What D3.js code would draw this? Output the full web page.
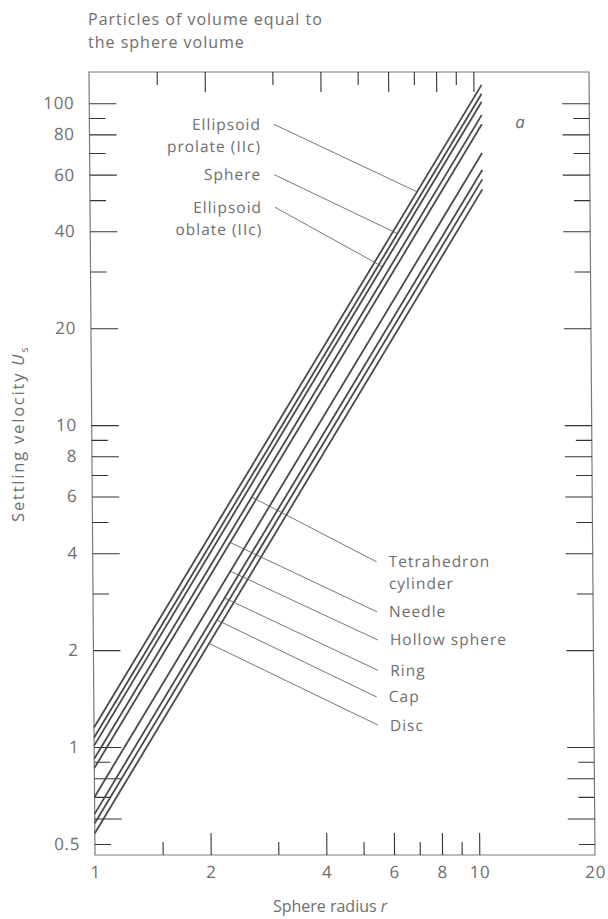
<!DOCTYPE html>
<html>
<head>
<meta charset="utf-8">
<script src="https://cdn.jsdelivr.net/npm/d3@7"></script>
<style>
  body { margin: 0; background: #fff; }
  text { font-family: "Open Sans", sans-serif; fill: #6e6e6e; }
</style>
</head>
<body>
<div class="settling"></div>
<script>
// data (log-log, straight lines)
const shapes = ["Ellipsoid prolate (IIc)", "Sphere", "Ellipsoid oblate (IIc)", "Tetrahedron cylinder",
                "Needle", "Hollow sphere", "Ring", "Cap", "Disc"];
const rFrom = 1, rTo = 10.5;
const uAtFrom = [1.15, 1.07, 1.01, 0.92, 0.86, 0.70, 0.62, 0.58, 0.54];
const uAtTo   = [114, 107, 101, 92, 86, 70, 62, 58, 54];

// labels: which line, where the leader touches it (r), where the leader ends (r, u)
const labelLines = [["Ellipsoid", "prolate (IIc)"], ["Sphere"], ["Ellipsoid", "oblate (IIc)"],
                    ["Tetrahedron", "cylinder"], ["Needle"], ["Hollow sphere"], ["Ring"], ["Cap"], ["Disc"]];
const labelSide = ["left", "left", "left", "right", "right", "right", "right", "right", "right"];
const leaderR   = [7.1, 6.3, 5.75, 2.6, 2.28, 2.28, 2.2, 2.1, 2.0];
const leaderEndR = [3.02, 3.02, 3.03, 5.48, 5.48, 5.5, 5.5, 5.45, 5.48];
const leaderEndU = [86, 60, 47.5, 3.76, 2.63, 2.15, 1.73, 1.43, 1.17];

// axis ticks
const xMajor = [2, 4, 6, 8, 10];
const xMinor = [1.5, 3, 5, 7, 9];
const xLabels = [1, 2, 4, 6, 8, 10, 20];
const yMajor = [100, 80, 60, 40, 20, 10, 8, 6, 4, 2, 1, 0.8, 0.6];
const yMinor = [90, 70, 50, 30, 9, 7, 5, 3, 0.9, 0.7, 0.5];
const yLabels = [100, 80, 60, 40, 20, 10, 8, 6, 4, 2, 1, 0.5];

const margin = {top: 72, right: 13, bottom: 64, left: 95},
    width = 608 - margin.left - margin.right,
    height = 919 - margin.top - margin.bottom;

const svg = d3.select(".settling")
  .append("svg")
    .attr("width", 608)
    .attr("height", 919);

// the scan leans slightly, so the plot is skewed a little
const lean = Math.atan(6 / height) * 180 / Math.PI;
const g = svg.append("g")
    .attr("transform", `translate(${margin.left},${margin.top + height}) skewX(${lean}) translate(0,${-height})`);

const x = d3.scaleLog().domain([1, 20]).range([0, width]);
const y = d3.scaleLog().domain([0.462, 125]).range([height, 0]);

function uOn(i, r) {
  const t = Math.log(r / rFrom) / Math.log(rTo / rFrom);
  return Math.exp(Math.log(uAtFrom[i]) + t * (Math.log(uAtTo[i]) - Math.log(uAtFrom[i])));
}

// frame
g.append("rect")
  .attr("width", width).attr("height", height)
  .attr("fill", "none").attr("stroke", "#7a7a7a").attr("stroke-width", 1.2);

function ticks(axis, vals, size) {
  return axis.tickValues(vals).tickSize(-size).tickFormat("");
}
function clean(sel) {
  sel.select(".domain").remove();
  sel.selectAll(".tick line").attr("stroke", "#333").attr("stroke-width", 1.1);
  return sel;
}
function labelStyle(sel) {
  sel.select(".domain").remove();
  sel.selectAll("text").attr("font-size", 17).attr("fill", "#6e6e6e").attr("letter-spacing", 0.6);
}

// left
g.append("g").call(ticks(d3.axisLeft(y), yMajor, 27)).call(clean);
g.append("g").call(ticks(d3.axisLeft(y), yMinor, 16)).call(clean);
g.append("g").call(d3.axisLeft(y).tickValues(yLabels).tickSize(0).tickPadding(15).tickFormat(d3.format("")))
  .call(labelStyle);
// right
g.append("g").attr("transform", `translate(${width},0)`).call(ticks(d3.axisRight(y), yMajor, 27)).call(clean);
g.append("g").attr("transform", `translate(${width},0)`).call(ticks(d3.axisRight(y), yMinor, 16)).call(clean);
// bottom
g.append("g").attr("transform", `translate(0,${height})`).call(ticks(d3.axisBottom(x), xMajor, 22)).call(clean);
g.append("g").attr("transform", `translate(0,${height})`).call(ticks(d3.axisBottom(x), xMinor, 13)).call(clean);
g.append("g").attr("transform", `translate(0,${height})`)
  .call(d3.axisBottom(x).tickValues(xLabels).tickSize(0).tickPadding(11).tickFormat(d3.format("")))
  .call(labelStyle);
// top
g.append("g").call(ticks(d3.axisTop(x), xMajor, 20)).call(clean);
g.append("g").call(ticks(d3.axisTop(x), xMinor, 13)).call(clean);

// curves
const line = d3.line().x(d => x(d[0])).y(d => y(d[1]));
g.append("g")
  .selectAll("path")
  .data(shapes.map((s, i) => [[rFrom, uAtFrom[i]], [rTo, uAtTo[i]]]))
  .join("path")
    .attr("d", line)
    .attr("fill", "none")
    .attr("stroke", "#4a4a4a")
    .attr("stroke-width", 1.8);

// leaders + labels
const ann = g.append("g");
shapes.forEach((s, i) => {
  const x0 = x(leaderR[i]), y0 = y(uOn(i, leaderR[i]));
  const x1 = x(leaderEndR[i]), y1 = y(leaderEndU[i]);
  ann.append("line")
    .attr("x1", x0).attr("y1", y0).attr("x2", x1).attr("y2", y1)
    .attr("stroke", "#555").attr("stroke-width", 0.8);
  const left = labelSide[i] === "left";
  const tx = left ? x1 - 13 : x1 + 12;
  labelLines[i].forEach((w, k) => {
    ann.append("text")
      .attr("x", tx)
      .attr("y", y1 + k * 22)
      .attr("dy", "0.35em")
      .attr("text-anchor", left ? "end" : "start")
      .attr("font-size", 15.5)
      .attr("letter-spacing", 1)
      .text(w);
  });
});

g.append("text")
  .attr("x", x(13.2)).attr("y", y(87.3)).attr("dy", "0.35em")
  .attr("text-anchor", "middle").attr("font-size", 17).attr("font-style", "italic")
  .text("a");

// titles
const title = svg.append("g").attr("font-size", 16).attr("letter-spacing", 1);
title.append("text").attr("x", 88).attr("y", 25).text("Particles of volume equal to");
title.append("text").attr("x", 88).attr("y", 48).text("the sphere volume");

const xt = svg.append("text")
  .attr("x", margin.left + width * 0.47).attr("y", 912)
  .attr("text-anchor", "middle").attr("font-size", 16);
xt.append("tspan").text("Sphere radius ");
xt.append("tspan").attr("font-style", "italic").text("r");

const yt = svg.append("text")
  .attr("transform", `translate(24,${margin.top + height * 0.462}) rotate(-90)`)
  .attr("text-anchor", "middle").attr("font-size", 16.5).attr("letter-spacing", 1.8);
yt.append("tspan").text("Settling velocity ");
yt.append("tspan").attr("font-style", "italic").text("U");
yt.append("tspan").attr("font-size", 11).attr("dy", 4).text("s");
</script>
</body>
</html>
